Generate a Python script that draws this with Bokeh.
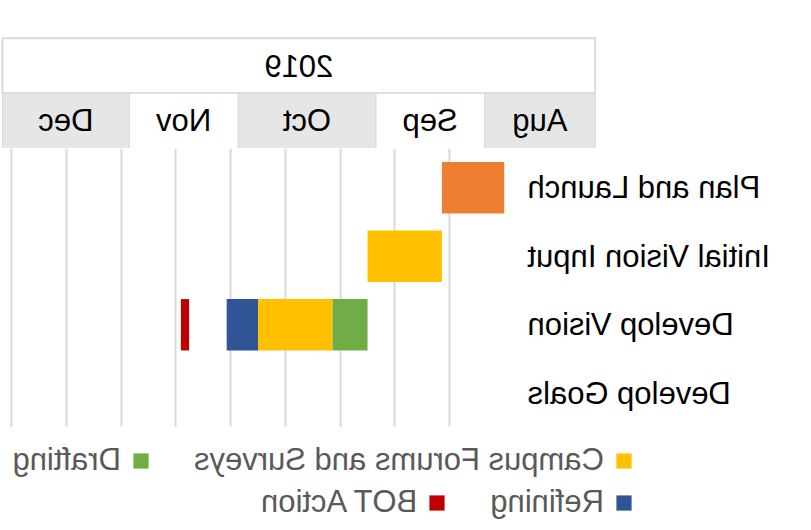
from bokeh.plotting import figure
from bokeh.models import Range1d, FixedTicker, Grid, Legend, LegendItem
from bokeh.layouts import column
from bokeh.embed import file_html
from bokeh.resources import INLINE
from bokeh.core.properties import value

FONT = "Liberation Sans"
FS = "31px"

# ---- data ----
tasks = ["Plan and Launch", "Initial Vision Input", "Develop Vision", "Develop Goals"]

seg_task = ["Plan and Launch", "Initial Vision Input", "Develop Vision",
            "Develop Vision", "Develop Vision", "Develop Vision"]
seg_phase = ["Plan and Launch", "Initial Vision Input", "Drafting",
             "Campus Forums and Surveys", "Refining", "BOT Action"]
seg_start = [0, 16, 35, 44, 63, 80.6]     # days from chart start
seg_end = [16, 35, 44, 63, 71, 82.7]
seg_color = ["#ED7D31", "#FFC000", "#70AD47", "#FFC000", "#2F5597", "#C00000"]

grid_days = [0, 14, 28, 42, 56, 70, 84, 98, 112, 126]

year_label = "2019"
months = ["Aug", "Sep", "Oct", "Nov", "Dec"]
month_start = [-23.2, 5.1, 32.9, 68.1, 95.9]
month_end = [5.1, 32.9, 68.1, 95.9, 128.3]
month_fill = ["#E7E6E6", "#FFFFFF", "#E7E6E6", "#FFFFFF", "#E7E6E6"]

legend_rows = [["Campus Forums and Surveys", "Drafting"], ["Refining", "BOT Action"]]

W = 811
common = dict(output_backend="svg", toolbar_location=None, frame_align=False)

# ---- header (year / months) ----
hdr = figure(width=W, height=148, x_range=Range1d(-23.51, 129.06), y_range=Range1d(0, 2.03),
             x_axis_location=None, y_axis_location=None,
             min_border_left=214, min_border_right=0, min_border_top=36, min_border_bottom=0,
             **common)
hdr.outline_line_color = None
hdr.grid.visible = False
hdr.quad(left=[month_start[0]], right=[month_end[-1]], bottom=[1], top=[2],
         fill_color="white", line_color="#D9D9D9", line_width=2)
hdr.quad(left=month_start, right=month_end, bottom=[0] * len(months), top=[1] * len(months),
         fill_color=month_fill, line_color="#D9D9D9", line_width=1)
hdr.text(x=[(month_start[0] + month_end[-1]) / 2], y=[1.5], text=[year_label],
         text_align="center", text_baseline="middle", text_font=value(FONT),
         text_font_size=FS, text_color="black")
hdr.text(x=[(s + e) / 2 for s, e in zip(month_start, month_end)], y=[0.5] * len(months),
         text=months, text_align="center", text_baseline="middle", text_font=value(FONT),
         text_font_size=FS, text_color="black")

# ---- gantt ----
n = len(tasks)
task_y = {t: n - 1 - i for i, t in enumerate(tasks)}

p = figure(width=W, height=279, x_range=Range1d(0, 129.06), y_range=Range1d(-0.5, 3.573),
           x_axis_location=None,
           min_border_left=306, min_border_right=0, min_border_top=0, min_border_bottom=0,
           **common)
p.outline_line_color = None
p.grid.visible = False
p.add_layout(Grid(dimension=0, ticker=FixedTicker(ticks=grid_days),
                  grid_line_color="#D9D9D9", grid_line_width=2))

p.yaxis.ticker = FixedTicker(ticks=[task_y[t] for t in tasks])
p.yaxis.major_label_overrides = {task_y[t]: t for t in tasks}
p.yaxis.axis_line_color = None
p.yaxis.major_tick_line_color = None
p.yaxis.minor_tick_line_color = None
p.yaxis.major_tick_out = 0
p.yaxis.major_tick_in = 0
p.yaxis.major_label_standoff = 23
p.yaxis.major_label_text_font = FONT
p.yaxis.major_label_text_font_size = FS
p.yaxis.major_label_text_color = "black"

for t, ph, s, e, c in zip(seg_task, seg_phase, seg_start, seg_end, seg_color):
    p.hbar(y=[task_y[t]], left=[s], right=[e], height=0.75, fill_color=c, line_color=None)

# ---- legend (own strip; proxy bars use the same data, outside this strip's view) ----
lg = figure(width=W, height=103, x_range=Range1d(-2, -1), y_range=Range1d(-2, -1),
            x_axis_location=None, y_axis_location=None,
            min_border_left=0, min_border_right=0, min_border_top=0, min_border_bottom=0,
            **common)
lg.outline_line_color = None
lg.grid.visible = False
lrend = {}
for t, ph, s, e, c in zip(seg_task, seg_phase, seg_start, seg_end, seg_color):
    lrend[ph] = lg.hbar(y=[task_y[t]], left=[s], right=[e], height=0.75,
                        fill_color=c, line_color=None)

for row, loc in zip(legend_rows, [(177, 52), (177, 10)]):
    leg = Legend(items=[LegendItem(label=lab, renderers=[lrend[lab]]) for lab in row],
                 orientation="horizontal", location=loc,
                 glyph_width=19, glyph_height=19, label_standoff=11, spacing=43,
                 padding=4, margin=0, label_height=34,
                 label_text_font=FONT, label_text_font_size=FS,
                 label_text_color="#595959",
                 border_line_color=None, background_fill_alpha=0)
    lg.add_layout(leg)

layout = column(hdr, p, lg, spacing=0)
layout.stylesheets = [":host { transform: scaleX(-1); transform-origin: center center; }"]

open("out.html", "w").write(file_html(layout, INLINE))
